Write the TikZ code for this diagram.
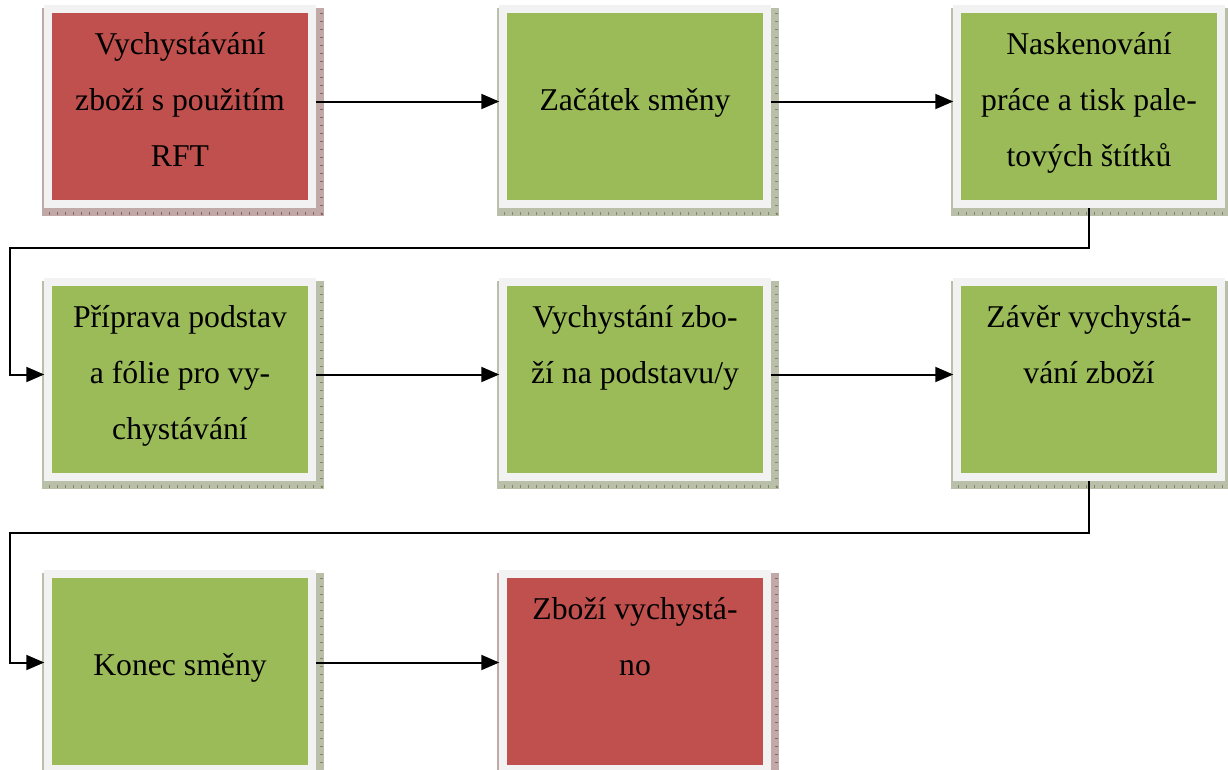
\documentclass[tikz,border=0pt]{standalone}
\usepackage{fontspec}
\setmainfont{Liberation Serif}
\usetikzlibrary{calc,arrows.meta,backgrounds}
\definecolor{redfill}{HTML}{C0504D}
\definecolor{greenfill}{HTML}{9BBB59}
\definecolor{framegray}{HTML}{F2F2F2}
\definecolor{redtick}{HTML}{8E6260}
\definecolor{greentick}{HTML}{7F8A62}
\tikzset{
  procbox/.style={draw=framegray, line width=7.5pt, minimum width=264pt, minimum height=195pt, inner sep=0pt},
  redbox/.style={procbox, fill=redfill},
  greenbox/.style={procbox, fill=greenfill},
  boxtext/.style={anchor=base, align=center, font=\fontsize{31.7}{56}\selectfont, inner sep=0pt},
  arr/.style={line width=2pt, -{Triangle[length=18pt,width=15pt]}},
}
\newcommand{\boxshadow}[2]{%
  \fill[#2!55!white] ($(#1.north west)+(-2,3)$) rectangle ($(#1.south east)+(8,8)$);
  \draw[#2, line width=3pt, dash pattern=on 1pt off 7pt] ($(#1.north east)+(6,8)$) -- ($(#1.south east)+(6,6)$) -- ($(#1.south west)+(0,6)$);
}
\begin{document}
\begin{tikzpicture}[x=1pt,y=-1pt]
\useasboundingbox (0,0) rectangle (1228,769);
% boxes
\node[redbox]   (b1) at (180,106.5) {};
\node[greenbox] (b2) at (635,106.5) {};
\node[greenbox] (b3) at (1089,106.5) {};
\node[greenbox] (b4) at (180,379.5) {};
\node[greenbox] (b5) at (635,379.5) {};
\node[greenbox] (b6) at (1089,379.5) {};
\node[greenbox] (b7) at (180,671.5) {};
\node[redbox]   (b8) at (635,671.5) {};
% shadows
\begin{pgfonlayer}{background}
\boxshadow{b1}{redtick}
\boxshadow{b2}{greentick}
\boxshadow{b3}{greentick}
\boxshadow{b4}{greentick}
\boxshadow{b5}{greentick}
\boxshadow{b6}{greentick}
\boxshadow{b7}{greentick}
\boxshadow{b8}{redtick}
\end{pgfonlayer}
% texts (base = baseline of the last line)
\node[boxtext] (t1) at ($(b1.north)+(0,161)$) {Vychystávání\\zboží s použitím\\RFT};
\node[boxtext] (t2) at ($(b2.north)+(0,105)$) {Začátek směny};
\node[boxtext] (t3) at ($(b3.north)+(0,161)$) {Naskenování\\práce a tisk pale-\\tových štítků};
\node[boxtext] (t4) at ($(b4.north)+(0,161)$) {Příprava podstav\\a fólie pro vy-\\chystávání};
\node[boxtext] (t5) at ($(b5.north)+(0,105)$) {Vychystání zbo-\\ží na podstavu/y};
\node[boxtext] (t6) at ($(b6.north)+(0,105)$) {Závěr vychystá-\\vání zboží};
\node[boxtext] (t7) at ($(b7.north)+(0,105)$) {Konec směny};
\node[boxtext] (t8) at ($(b8.north)+(0,105)$) {Zboží vychystá-\\no};
% connectors
\coordinate (c1) at (10,248);
\coordinate (c2) at (10,533);
\draw[arr] ([yshift=5pt]b1.east) -- ([yshift=5pt]b2.west);
\draw[arr] ([yshift=5pt]b2.east) -- ([yshift=5pt]b3.west);
\draw[arr] (b3.south) |- (c1) |- ([yshift=5pt]b4.west);
\draw[arr] ([yshift=5pt]b4.east) -- ([yshift=5pt]b5.west);
\draw[arr] ([yshift=5pt]b5.east) -- ([yshift=5pt]b6.west);
\draw[arr] (b6.south) |- (c2) |- ([yshift=9pt]b7.west);
\draw[arr] ([yshift=9pt]b7.east) -- ([yshift=9pt]b8.west);
\end{tikzpicture}
\end{document}
